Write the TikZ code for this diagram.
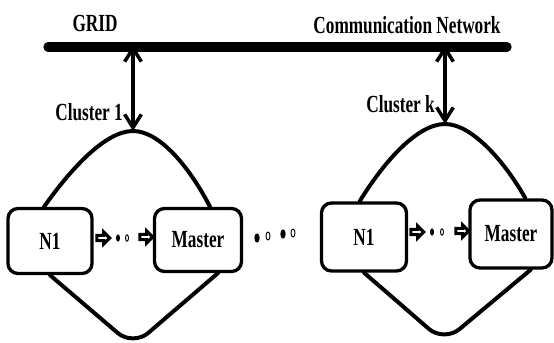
\documentclass[tikz,border=0pt]{standalone}
\usepackage{fontspec}
\setmainfont{Liberation Serif}[FakeStretch=0.7]
\usepackage{tikz}
\usetikzlibrary{shapes.arrows,shapes.geometric,arrows.meta}
\tikzstyle{box}=[draw, line width=2.8pt, rounded corners=3mm, inner sep=0pt, font=\fontsize{21}{23}\selectfont\bfseries]
\tikzstyle{lbl}=[inner sep=0pt, font=\fontsize{21}{23}\selectfont\bfseries]
\tikzstyle{fat}=[single arrow, draw, fill=white, line width=2.6pt, minimum height=3.8mm, minimum width=3.6mm, inner sep=.2pt, single arrow head extend=.7mm]
\tikzstyle{fdot}=[ellipse, fill=black, inner sep=0pt, minimum width=1.2mm, minimum height=2.2mm]
\tikzstyle{hdot}=[ellipse, draw=black, line width=.8pt, inner sep=0pt, minimum width=.9mm, minimum height=1.9mm]
\tikzstyle{link}=[line width=3.4pt, line cap=round]
\tikzstyle{updown}=[line width=3pt, {Straight Barb[length=4mm,width=5mm]}-{Straight Barb[length=4mm,width=5mm]}]

\begin{document}
\begin{tikzpicture}[x=.3mm, y=-.3mm]
  \useasboundingbox (0,0) rectangle (554,342);
  % bus
  \coordinate (busl) at (48,47);
  \coordinate (busr) at (507,47);
  \draw[line width=8pt, line cap=round] (busl) -- (busr);
  \node[lbl] (grid) at (95,23) {GRID};
  \node[lbl] (net) at (407,25) {Communication Network};

  % cluster 1
  \node[box, minimum width=2.52cm, minimum height=1.95cm] (n1a) at (50,241) {N1};
  \node[box, minimum width=2.61cm, minimum height=1.89cm] (mastera) at (198,240) {Master};
  \coordinate (ga) at (133,45);
  \coordinate (topa) at (133,131);
  \coordinate (bota) at (133,346);
  \draw[link] (n1a.100) .. controls (70,170) and (105,131) .. (topa)
              .. controls (160,131) and (190,168) .. (mastera.70);
  \draw[link, rounded corners=6mm] (n1a.south) -- (bota) -- (mastera.-59);
  \draw[updown] (ga) -- (topa);
  \node[lbl, anchor=east] (ca) at (123,112) {Cluster 1};
  \node[fat] (fa1) at (102,238) {};
  \node[fdot] (da1) at (118,238) {};
  \node[hdot] (da2) at (127,238) {};
  \node[fat] (fa2) at (145,237) {};

  % dots between clusters
  \node[fdot, minimum width=1.6mm, minimum height=2.8mm] (m1) at (257,238) {};
  \node[hdot, minimum width=1.2mm, minimum height=2.4mm] (m2) at (268,236) {};
  \node[fdot, minimum width=1.6mm, minimum height=2.8mm] (m3) at (283,234) {};
  \node[hdot, minimum width=1.2mm, minimum height=2.4mm] (m4) at (293,233) {};

  % cluster k
  \node[box, minimum width=2.55cm, minimum height=2.04cm] (n1b) at (364,237) {N1};
  \node[box, minimum width=2.46cm, minimum height=2.04cm] (masterb) at (511,234) {Master};
  \coordinate (gb) at (445,45);
  \coordinate (topb) at (445,124);
  \coordinate (botb) at (444,342);
  \draw[link] (n1b.97) .. controls (385,160) and (418,124) .. (topb)
              .. controls (472,124) and (505,162) .. (masterb.68);
  \draw[link, rounded corners=6mm] (n1b.south) -- (botb) -- (masterb.-61);
  \draw[updown] (gb) -- (topb);
  \node[lbl, anchor=east] (ck) at (435,104) {Cluster k};
  \node[fat] (fb1) at (416,232) {};
  \node[fdot] (db1) at (432,232) {};
  \node[hdot] (db2) at (442,232) {};
  \node[fat] (fb2) at (461,231) {};
\end{tikzpicture}
\end{document}
